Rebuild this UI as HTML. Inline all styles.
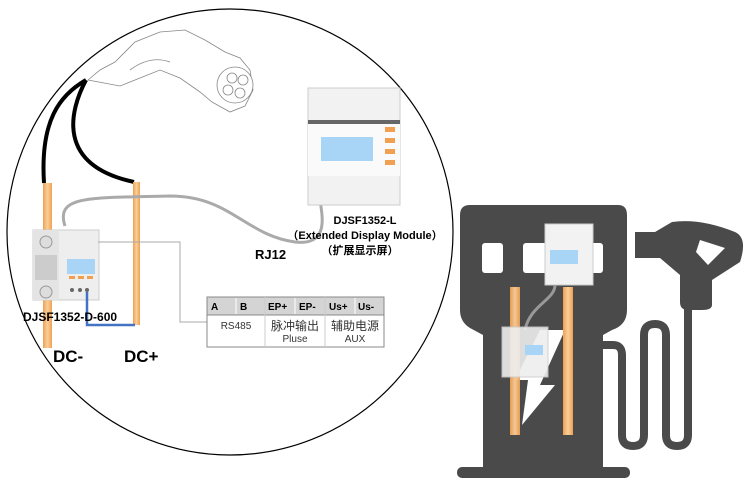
<!DOCTYPE html>
<html><head><meta charset="utf-8"><style>
body{margin:0;background:#fff;width:750px;height:496px;overflow:hidden}
svg text{font-family:"Liberation Sans","Noto Sans CJK SC",sans-serif}
</style></head><body>
<svg width="750" height="496" viewBox="0 0 750 496" xmlns="http://www.w3.org/2000/svg">
<defs>
<linearGradient id="og" x1="0" x2="1"><stop offset="0" stop-color="#f0a050"/><stop offset="0.5" stop-color="#f8cf9c"/><stop offset="1" stop-color="#f0a050"/></linearGradient>
</defs>
<circle cx="230" cy="232" r="223" fill="none" stroke="#000" stroke-width="1.2"/>
<!-- plug -->
<g fill="#fff" stroke="#888" stroke-width="0.8">
<path d="M88 80 L100 70 L115 62 L135 42 L160 32 L185 30 L205 40 L225 52 L240 58 L250 70 L253 90 L245 106 L230 112 L212 102 L200 92 L180 78 L160 70 L140 78 L120 86 Z"/>
<circle cx="235" cy="85" r="18"/>
<circle cx="232" cy="78" r="5"/><circle cx="243" cy="80" r="5"/><circle cx="228" cy="90" r="5"/><circle cx="240" cy="93" r="5"/>
<path d="M130 70 Q150 55 170 62" fill="none"/>
</g>
<!-- black cables -->
<path d="M86 80 C60 95 40 120 44 183" fill="none" stroke="#000" stroke-width="4"/>
<path d="M86 80 C70 110 55 165 134 182" fill="none" stroke="#000" stroke-width="4"/>
<!-- bars -->
<rect x="43" y="183" width="9" height="165" fill="url(#og)"/>
<rect x="133" y="182" width="7" height="143" fill="url(#og)"/>
<!-- grey cable -->
<path d="M65 226 C55 195 90 198 170 196 C230 196 245 235 295 242 C330 246 322 215 320 200" fill="none" stroke="#aaa" stroke-width="3"/>
<!-- D-600 meter -->
<rect x="33" y="230" width="66" height="70" fill="#eee" stroke="#ccc"/>
<rect x="33" y="230" width="26" height="70" fill="#e4e4e4"/>
<circle cx="46" cy="242" r="6" fill="#ddd" stroke="#999"/><circle cx="46" cy="292" r="6" fill="#ddd" stroke="#999"/>
<rect x="35" y="255" width="22" height="25" fill="#ccc"/>
<rect x="67" y="259" width="28" height="15" fill="#a8d4f5"/>
<rect x="69" y="276" width="6" height="3" fill="#f0a050"/><rect x="78" y="276" width="6" height="3" fill="#f0a050"/><rect x="87" y="276" width="6" height="3" fill="#f0a050"/>
<circle cx="72" cy="290" r="2" fill="#666"/><circle cx="80" cy="290" r="2" fill="#666"/><circle cx="87" cy="290" r="2" fill="#666"/>
<!-- blue -->
<path d="M87 292 V325 H135" fill="none" stroke="#4472c4" stroke-width="2.5"/>
<!-- thin line -->
<path d="M98 242 H180 V322 H207" fill="none" stroke="#aaa" stroke-width="1"/>
<text x="23" y="321" font-size="12" font-weight="bold">DJSF1352-D-600</text>
<text x="53" y="362" font-size="17" font-weight="bold">DC-</text>
<text x="124" y="362" font-size="17" font-weight="bold">DC+</text>
<text x="255" y="259" font-size="13" font-weight="bold">RJ12</text>
<!-- table -->
<rect x="207" y="297" width="177" height="50" fill="#fff" stroke="#888"/>
<rect x="207" y="297" width="177" height="18" fill="#d4d4d4" stroke="#888"/>
<g stroke="#fff" stroke-width="1"><line x1="236" y1="298" x2="236" y2="314"/><line x1="295" y1="298" x2="295" y2="314"/><line x1="355" y1="298" x2="355" y2="314"/></g>
<g stroke="#ccc"><line x1="265" y1="297" x2="265" y2="347"/><line x1="325" y1="297" x2="325" y2="347"/></g>
<g font-size="10" font-weight="bold"><text x="211" y="310">A</text><text x="240" y="310">B</text><text x="268" y="310">EP+</text><text x="299" y="310">EP-</text><text x="329" y="310">Us+</text><text x="358" y="310">Us-</text></g>
<g font-size="10" fill="#333" text-anchor="middle"><text x="236" y="329">RS485</text><text x="295" y="330" font-size="12">脉冲输出</text><text x="295" y="342">Pluse</text><text x="355" y="330" font-size="12">辅助电源</text><text x="355" y="342">AUX</text></g>
<!-- display module -->
<rect x="308" y="88" width="92" height="117" fill="#f2f2f2" stroke="#ccc"/>
<rect x="308" y="120" width="92" height="56" fill="#fafafa"/>
<rect x="308" y="120" width="92" height="4" fill="#666"/>
<rect x="321" y="137" width="52" height="24" fill="#a8d4f5"/>
<rect x="385" y="127" width="10" height="5" fill="#f0a050"/><rect x="385" y="138" width="10" height="5" fill="#f0a050"/><rect x="385" y="149" width="10" height="5" fill="#f0a050"/><rect x="385" y="160" width="10" height="5" fill="#f0a050"/>
<g font-size="11" font-weight="bold" text-anchor="middle"><text x="365" y="224">DJSF1352-L</text><text x="365" y="239">（Extended Display Module）</text><text x="360" y="254">（扩展显示屏）</text></g>
<!-- pump -->
<g fill="#4a4a4a">
<path d="M470 205 H618 Q627 205 627 215 V310 Q627 325 612 330 L603 335 V470 H483 V335 L470 328 Q460 322 460 310 V215 Q460 205 470 205 Z"/>
<rect x="457" y="467" width="173" height="11" rx="5"/>
<path d="M600 345 H613 Q622 345 622 355 V435 Q622 446 633 446 Q644 446 644 435 V335 Q644 324 655 324 Q666 324 666 335 V435 Q666 446 677 446 Q688 446 688 435 V300" fill="none" stroke="#4a4a4a" stroke-width="8"/>
<path d="M635 232 H655 L672 222 Q700 218 735 232 Q748 238 740 262 L712 280 V305 Q712 310 702 310 H688 Q680 310 680 302 V275 L660 258 H635 Z"/>
</g>
<path d="M700 240 L725 248 L708 265 L696 252 Z" fill="#fff"/>
<rect x="482" y="243" width="21" height="30" rx="3" fill="#fff"/>
<rect x="523" y="243" width="80" height="30" rx="3" fill="#fff"/>
<rect x="545" y="224" width="48" height="61" fill="#f2f2f2" stroke="#ccc"/>
<rect x="550" y="250" width="28" height="14" fill="#a8d4f5"/>
<path d="M555 285 C555 300 530 305 525 330" fill="none" stroke="#999" stroke-width="3"/>
<path d="M565 330 L540 385 L555 385 L522 425 L528 380 L515 380 L540 330 Z" fill="#fff"/>
<rect x="510" y="287" width="10" height="148" fill="url(#og)" opacity="0.95"/>
<rect x="563" y="287" width="10" height="148" fill="url(#og)"/>
<rect x="502" y="327" width="46" height="50" fill="#eee" opacity="0.9" stroke="#ccc"/>
<rect x="525" y="345" width="18" height="10" fill="#a8d4f5"/>
</svg>
</body></html>
